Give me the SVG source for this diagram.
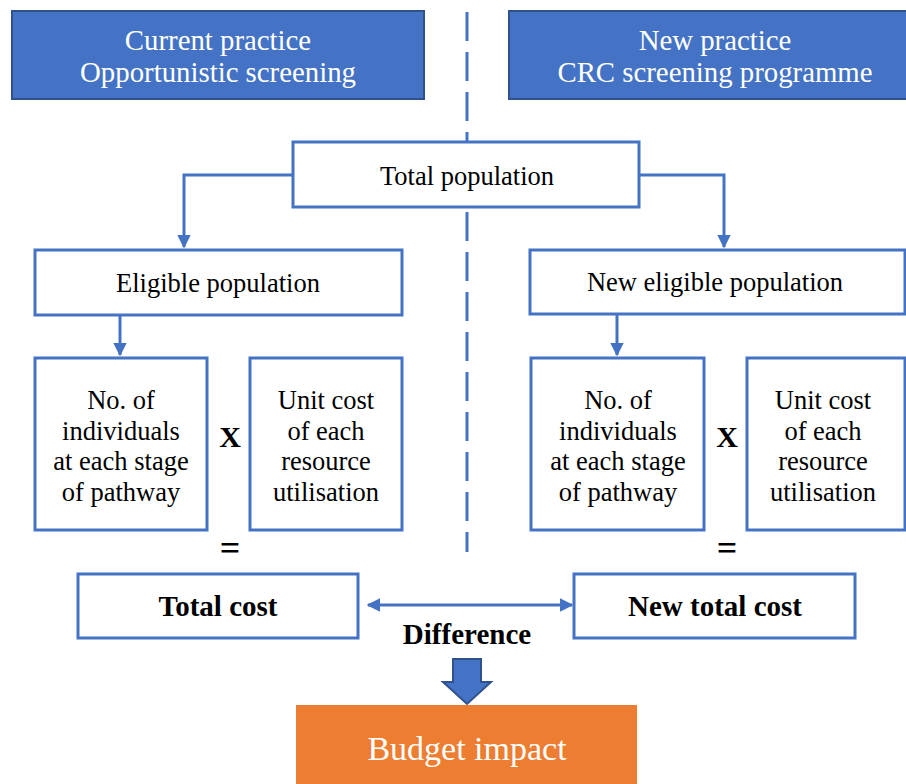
<svg xmlns="http://www.w3.org/2000/svg" width="906" height="784" viewBox="0 0 906 784">
<style>
.box{fill:#fff;stroke:#4472C4;stroke-width:3}
.hdr{fill:#4472C4;stroke:#2F528F;stroke-width:2}
.t{font-family:"Liberation Serif",serif;font-size:26.5px;fill:#000;text-anchor:middle}
.w{font-family:"Liberation Serif",serif;font-size:28.8px;fill:#fff;text-anchor:middle}
.b{font-family:"Liberation Serif",serif;font-size:29px;font-weight:bold;fill:#000;text-anchor:middle}
.c{fill:none;stroke:#4472C4;stroke-width:3}
</style>
<defs>
<marker id="ah" viewBox="0 0 10 10" refX="9" refY="5" markerWidth="4.5" markerHeight="4.5" orient="auto-start-reverse" markerUnits="strokeWidth">
<path d="M0,0 L10,5 L0,10 Z" fill="#4472C4"/>
</marker>
</defs>
<rect width="906" height="784" fill="#fff"/>
<line x1="467" y1="12" x2="467" y2="552" stroke="#4472C4" stroke-width="3" stroke-dasharray="29 11"/>
<g id="hdr-current">
<rect class="hdr" x="12" y="11" width="412" height="88"/>
<text class="w" x="218" y="50">Current practice</text>
<text class="w" x="218" y="82">Opportunistic screening</text>
</g>
<g id="hdr-new">
<rect class="hdr" x="509" y="11" width="405" height="88"/>
<text class="w" x="715" y="50">New practice</text>
<text class="w" x="715" y="82">CRC screening programme</text>
</g>
<g id="total-pop">
<rect class="box" x="293" y="142" width="346" height="65"/>
<text class="t" x="467" y="185">Total population</text>
</g>
<g id="eligible">
<rect class="box" x="35" y="250" width="367" height="65"/>
<text class="t" x="218" y="292">Eligible population</text>
</g>
<g id="new-eligible">
<rect class="box" x="530" y="250" width="375" height="64"/>
<text class="t" x="715" y="291">New eligible population</text>
</g>
<g id="num-left">
<rect class="box" x="35" y="358" width="172" height="172"/>
<text class="t" x="121" y="409">No. of</text>
<text class="t" x="121" y="440">individuals</text>
<text class="t" x="121" y="470">at each stage</text>
<text class="t" x="121" y="501">of pathway</text>
</g>
<g id="unit-left">
<rect class="box" x="250" y="358" width="152" height="172"/>
<text class="t" x="326" y="409">Unit cost</text>
<text class="t" x="326" y="440">of each</text>
<text class="t" x="326" y="470">resource</text>
<text class="t" x="326" y="501">utilisation</text>
</g>
<g id="num-right">
<rect class="box" x="531" y="358" width="173" height="172"/>
<text class="t" x="618" y="409">No. of</text>
<text class="t" x="618" y="440">individuals</text>
<text class="t" x="618" y="470">at each stage</text>
<text class="t" x="618" y="501">of pathway</text>
</g>
<g id="unit-right">
<rect class="box" x="747" y="358" width="158" height="172"/>
<text class="t" x="823" y="409">Unit cost</text>
<text class="t" x="823" y="440">of each</text>
<text class="t" x="823" y="470">resource</text>
<text class="t" x="823" y="501">utilisation</text>
</g>
<g id="ops">
<text class="b" x="230" y="447" style="font-size:30px">X</text>
<text class="b" x="230" y="560" style="font-size:36px">=</text>
<text class="b" x="727" y="447" style="font-size:30px">X</text>
<text class="b" x="727" y="560" style="font-size:36px">=</text>
</g>
<g id="total-cost">
<rect class="box" x="78" y="574" width="280" height="64"/>
<text class="b" x="218" y="616">Total cost</text>
</g>
<g id="new-total-cost">
<rect class="box" x="574" y="574" width="281" height="64"/>
<text class="b" x="715" y="616">New total cost</text>
</g>
<g id="difference">
<text class="b" x="467" y="644">Difference</text>
</g>
<g id="budget">
<rect x="296" y="705" width="341" height="85" fill="#ED7D31"/>
<text class="w" x="467" y="760" style="font-size:34px">Budget impact</text>
</g>
<g id="connectors">
<polyline class="c" points="293,175 184,175 184,247" marker-end="url(#ah)"/>
<polyline class="c" points="639,175 724,175 724,247" marker-end="url(#ah)"/>
<line class="c" x1="120" y1="315" x2="120" y2="355" marker-end="url(#ah)"/>
<line class="c" x1="617" y1="314" x2="617" y2="355" marker-end="url(#ah)"/>
<line class="c" x1="368" y1="605" x2="572" y2="605" marker-start="url(#ah)" marker-end="url(#ah)"/>
<path d="M453,659 H481 V682 H491 L467,704 L443,682 H453 Z" fill="#4472C4" stroke="#2F528F" stroke-width="2"/>
</g>
</svg>
